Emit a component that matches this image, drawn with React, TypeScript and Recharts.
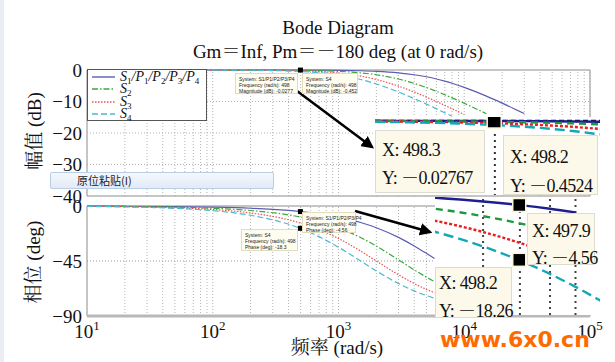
import React from 'react';
import { LineChart, Line, XAxis, YAxis, ReferenceLine, ReferenceArea, ReferenceDot, Legend } from 'recharts';

const SERIF = "'Liberation Serif', 'Times New Roman', 'Noto Serif CJK SC', 'Noto Sans CJK SC', serif";
const CJK = "'Noto Sans CJK SC', sans-serif";

// ---------- main Bode data (rad/s, dB, deg) ----------
const FREQ = [10, 20, 50, 100, 200, 500, 1000, 1500, 2000, 3000, 4000, 5000, 5800, 7000, 8000, 10000, 12000, 15000, 20000, 30000];
const MAG_S1 = [0, 0, 0, -0.001, -0.004, -0.028, -0.11, -0.24, -0.42, -0.9, -1.5, -2.15, -2.7, -3.54, -4.22, -5.52, -6.72, -8.31, -10.52, -13.82];
const MAG_S2 = [0, 0, -0.001, -0.005, -0.018, -0.11, -0.43, -0.91, -1.51, -2.87, -4.26, -5.56, -6.53, -7.85, -8.84, -10.57, -12.04, -13.87, null, null];
const MAG_S3 = [0, 0, -0.003, -0.011, -0.043, -0.26, -0.97, -1.94, -3.01, -5.12, -6.99, -8.6, -9.74, -11.22, -12.3, -14.15, null, null, null, null];
const MAG_S4 = [0, -0.001, -0.005, -0.019, -0.077, -0.46, -1.6, -3.01, -4.44, -6.99, -9.09, -10.83, -12.03, -13.58, -14.69, null, null, null, null, null];
const PH_S1 = [-0.09, -0.18, -0.46, -0.92, -1.84, -4.58, -9.1, -13.5, -17.77, -25.68, -32.66, -38.7, -42.9, null, null, null, null, null, null, null];
const PH_S2 = [-0.18, -0.37, -0.92, -1.85, -3.69, -9.16, -17.88, -25.8, -32.83, -44.06, -52.2, -58.2, -61.9, null, null, null, null, null, null, null];
const PH_S3 = [-0.29, -0.57, -1.43, -2.86, -5.71, -14.04, -26.57, -36.87, -45, -56.31, -63.43, -68.2, -71.0, null, null, null, null, null, null, null];
const PH_S4 = [-0.38, -0.76, -1.91, -3.81, -7.59, -18.43, -33.69, -45, -53.13, -63.43, -69.44, -73.3, -75.5, null, null, null, null, null, null, null];

// ---------- zoomed insets around 498 rad/s ----------
const ZOOM_FREQ = [242, 300, 400, 500, 600, 700, 800, 945];
const ZMAG_S1 = [-0.0065, -0.01, -0.018, -0.028, -0.04, -0.054, -0.071, -0.098];
const ZMAG_S2 = [-0.026, -0.041, -0.072, -0.111, -0.16, -0.216, -0.28, -0.386];
const ZMAG_S3 = [-0.063, -0.097, -0.17, -0.263, -0.374, -0.501, -0.645, -0.875];
const ZMAG_S4 = [-0.111, -0.17, -0.298, -0.458, -0.645, -0.856, -1.088, -1.452];
const ZPH_S1 = [-2.22, -2.75, -3.67, -4.58, -5.49, -6.4, null, null];
const ZPH_S2 = [-4.47, -5.53, -7.35, -9.16, -10.95, -12.72, null, null];
const ZPH_S3 = [-6.9, -8.53, -11.31, -14.04, -16.7, -19.29, null, null];
const ZPH_S4 = [-9.16, -11.31, -14.93, -18.43, -21.8, -25.02, -28.07, -32.2];
const ZOOM_GRID = [400, 500, 600, 700];

// datatip values
const TIP_FREQ = 498;
const TIP_MAG_S1 = -0.0277;
const TIP_MAG_S4 = -0.452;
const TIP_PH_S1 = -4.56;
const TIP_PH_S4 = -18.26;

// ---------- series style ----------
const SERIES_KEYS = ['s1', 's2', 's3', 's4'];
const SERIES_LABELS = ['S1/P1/P2/P3/P4', 'S2', 'S3', 'S4'];
const SERIES_COLORS = ['#5c5cb2', '#3aa83a', '#ec5252', '#4cb8d4'];
const SERIES_DASH = [undefined, '6 2 1.5 2', '1.5 1.5', '6 3'];
const ZOOM_COLORS = ['#1e1e8c', '#199a3c', '#e62020', '#14a8b4'];
const ZOOM_DASH = [undefined, '7 5', '3 2', '10 5'];

// ---------- ticks ----------
const X_TICKS = [10, 100, 1000, 10000, 100000];
const X_TICK_EXP = ['1', '2', '3', '4', '5'];
const MAG_TICKS = [0, -10, -20, -30, -40];
const MAG_TICK_LABELS = ['0', '−10', '−20', '−30', '−40'];
const PH_TICKS = [0, -45, -90];
const PH_TICK_LABELS = ['0', '−45', '−90'];
const DECADES = [10, 100, 1000, 10000];
const MULTS = [1, 2, 3, 4, 5, 6, 7, 8, 9];
const GRID_FREQ = DECADES.flatMap((d) => MULTS.map((m) => d * m)).filter((v) => v > 10).concat([100000]);

const magData = FREQ.map((f, i) => ({ f, s1: MAG_S1[i], s2: MAG_S2[i], s3: MAG_S3[i], s4: MAG_S4[i] }));
const phData = FREQ.map((f, i) => ({ f, s1: PH_S1[i], s2: PH_S2[i], s3: PH_S3[i], s4: PH_S4[i] }));
const zMagData = ZOOM_FREQ.map((f, i) => ({ f, s1: ZMAG_S1[i], s2: ZMAG_S2[i], s3: ZMAG_S3[i], s4: ZMAG_S4[i] }));
const zPhData = ZOOM_FREQ.map((f, i) => ({ f, s1: ZPH_S1[i], s2: ZPH_S2[i], s3: ZPH_S3[i], s4: ZPH_S4[i] }));

const makeYTick = (ticks: number[], labels: string[]) => (props: any) => {
  const { x, y, payload } = props;
  const idx = ticks.indexOf(payload.value);
  return (
    <text x={x} y={y} textAnchor="end" dominantBaseline="central" fontFamily={SERIF} fontSize={19} fill="#111">
      {labels[idx]}
    </text>
  );
};

const XTick = (props: any) => {
  const { x, y, payload } = props;
  const idx = X_TICKS.indexOf(payload.value);
  return (
    <text x={x} y={y + 14} textAnchor="middle" fontFamily={SERIF} fontSize={19} fill="#111">
      <tspan>10</tspan>
      <tspan dy={-8} fontSize={13}>{X_TICK_EXP[idx]}</tspan>
    </text>
  );
};

const renderLabel = (s: string) => {
  const parts: React.ReactNode[] = [];
  s.split('').forEach((ch, i) => {
    if (/[0-9]/.test(ch)) parts.push(<sub key={i} style={{ fontSize: 9, fontStyle: 'normal', verticalAlign: '-3px', lineHeight: 0 }}>{ch}</sub>);
    else parts.push(<span key={i}>{ch}</span>);
  });
  return parts;
};

const LegendBox = () => (
  <div style={{ width: 120, height: 52, border: '1px solid #555', background: '#fff', boxSizing: 'border-box', paddingTop: 1 }}>
    {SERIES_KEYS.map((k, i) => (
      <div key={k} style={{ display: 'flex', alignItems: 'center', height: 12.3 }}>
        <svg width={30} height={10} style={{ marginLeft: 2, flex: 'none' }}>
          <line x1={2} y1={5} x2={25} y2={5} stroke={SERIES_COLORS[i]} strokeWidth={1.4} strokeDasharray={SERIES_DASH[i]} />
        </svg>
        <span style={{ fontFamily: SERIF, fontStyle: 'italic', fontSize: 14, color: '#111', lineHeight: '12px', whiteSpace: 'nowrap' }}>
          {renderLabel(SERIES_LABELS[i])}
        </span>
      </div>
    ))}
  </div>
);

const tipSquare = (size: number) => (props: any) => (
  <rect x={props.cx - size / 2} y={props.cy - size / 2} width={size} height={size} fill="#000" stroke="#fbf6d8" strokeWidth={size > 8 ? 1.5 : 0} />
);

const gridLines = (ymin: number, ymax: number) => GRID_FREQ.map((v) => (
  <ReferenceLine key={'g' + v} segment={[{ x: v, y: ymin }, { x: v, y: ymax }]} stroke="#b3b3b3" strokeDasharray="1 2" strokeWidth={1} />
));

const smallTip: React.CSSProperties = {
  position: 'absolute', background: '#fffdf0', border: '1px solid #e2dcbc', fontFamily: "'Liberation Sans', Arial, sans-serif",
  fontSize: 5, lineHeight: '6px', color: '#222', padding: '2px 3px', boxSizing: 'border-box', whiteSpace: 'nowrap',
};

const bigTip: React.CSSProperties = {
  position: 'absolute', background: '#fcf9ea', border: '1px solid #dcdcd0', fontFamily: SERIF,
  fontSize: 18, color: '#111', boxSizing: 'border-box', letterSpacing: -0.6, whiteSpace: 'nowrap',
};

export default function App() {
  return (
    <div style={{ position: 'fixed', left: 0, top: 0, width: 615, height: 362, background: '#fff', overflow: 'hidden' }}>
      <div style={{ position: 'absolute', left: 0, top: 0, width: 4, height: 362, background: '#eaeef4' }} />

      {/* magnitude plot */}
      <div style={{ position: 'absolute', left: 0, top: 0 }}>
        <LineChart width={615} height={210} data={magData} margin={{ top: 70, right: 25, left: 0, bottom: 14 }}>
          <XAxis type="number" dataKey="f" scale="log" domain={[10, 100000]} ticks={X_TICKS} hide allowDataOverflow />
          <YAxis type="number" domain={[-40, 0]} ticks={MAG_TICKS} width={87} interval={0} axisLine={false} tickLine={false}
            tickSize={3} tickMargin={2} tick={makeYTick(MAG_TICKS, MAG_TICK_LABELS)} />
          {gridLines(-40, 0)}
          {[-10, -20, -30].map((v) => (
            <ReferenceLine key={'h' + v} y={v} stroke="#b3b3b3" strokeDasharray="1 2" />
          ))}
          <ReferenceArea x1={10} x2={100000} y1={-40} y2={0} fill="none" stroke="#8c8c8c" strokeWidth={1} />
          {SERIES_KEYS.map((k, i) => (
            <Line key={k} dataKey={k} name={SERIES_LABELS[i]} stroke={SERIES_COLORS[i]} strokeDasharray={SERIES_DASH[i]}
              strokeWidth={1.2} dot={false} type="monotone" isAnimationActive={false} />
          ))}
          <ReferenceDot x={TIP_FREQ} y={TIP_MAG_S1} r={3} shape={tipSquare(5)} />
          <Legend layout="vertical" align="center" verticalAlign="middle" content={() => <LegendBox />}
            wrapperStyle={{ position: 'absolute', left: 87, top: 69, width: 121, height: 53 }} />
        </LineChart>
      </div>

      {/* phase plot */}
      <div style={{ position: 'absolute', left: 0, top: 190 }}>
        <LineChart width={615} height={172} data={phData} margin={{ top: 16, right: 25, left: 0, bottom: 16 }}>
          <XAxis type="number" dataKey="f" scale="log" domain={[10, 100000]} ticks={X_TICKS} interval={0} height={30}
            axisLine={false} tickLine={false} tick={<XTick />} allowDataOverflow />
          <YAxis type="number" domain={[-90, 0]} ticks={PH_TICKS} width={87} interval={0} axisLine={false} tickLine={false}
            tickSize={3} tickMargin={2} tick={makeYTick(PH_TICKS, PH_TICK_LABELS)} />
          {gridLines(-90, 0)}
          <ReferenceLine y={-45} stroke="#9a9a9a" strokeDasharray="1 2" />
          <ReferenceArea x1={10} x2={100000} y1={-90} y2={0} fill="none" stroke="#8c8c8c" strokeWidth={1} />
          <ReferenceLine y={-90} stroke="#b8b8b8" strokeWidth={3} />
          {SERIES_KEYS.map((k, i) => (
            <Line key={k} dataKey={k} name={SERIES_LABELS[i]} stroke={SERIES_COLORS[i]} strokeDasharray={SERIES_DASH[i]}
              strokeWidth={1.2} dot={false} type="monotone" isAnimationActive={false} />
          ))}
          <ReferenceDot x={TIP_FREQ} y={TIP_PH_S1} r={3} shape={tipSquare(5)} />
          <ReferenceDot x={TIP_FREQ} y={TIP_PH_S4} r={3} shape={tipSquare(5)} />
        </LineChart>
      </div>

      {/* titles and arrows */}
      <svg width={615} height={362} style={{ position: 'absolute', left: 0, top: 0, pointerEvents: 'none' }}>
        <defs>
          <marker id="ah" markerWidth="5" markerHeight="5" refX="4" refY="2.5" orient="auto">
            <path d="M0,0 L5,2.5 L0,5 z" fill="#000" />
          </marker>
        </defs>
        <text x={338} y={34} textAnchor="middle" fontFamily={SERIF} fontSize={19} fill="#111">Bode Diagram</text>
        <text x={338} y={58} textAnchor="middle" fontFamily={SERIF} fontSize={19} fill="#111">Gm＝Inf, Pm＝－180 deg (at 0 rad/s)</text>
        <text transform="translate(34,131) rotate(-90)" textAnchor="middle" dominantBaseline="central" fontFamily={SERIF} fontSize={19} fill="#111">幅值 (dB)</text>
        <text transform="translate(33,262) rotate(-90)" textAnchor="middle" dominantBaseline="central" fontFamily={SERIF} fontSize={19} fill="#111">相位 (deg)</text>
        <text x={337} y={354} textAnchor="middle" fontFamily={SERIF} fontSize={19} fill="#111">频率 (rad/s)</text>
        <line x1={293} y1={88} x2={372} y2={147} stroke="#000" strokeWidth={2.5} markerEnd="url(#ah)" />
        <line x1={355} y1={211} x2={430} y2={232} stroke="#000" strokeWidth={2.5} markerEnd="url(#ah)" />
      </svg>

      {/* small datatips */}
      <div style={{ ...smallTip, left: 235, top: 73, width: 63, height: 21 }}>
        <div>System: S1/P1/P2/P3/P4</div><div>Frequency (rad/s): 498</div><div>Magnitude (dB): -0.0277</div>
      </div>
      <div style={{ ...smallTip, left: 302, top: 73, width: 56, height: 21 }}>
        <div>System: S4</div><div>Frequency (rad/s): 498</div><div>Magnitude (dB): -0.452</div>
      </div>
      <div style={{ ...smallTip, left: 302, top: 212, width: 54, height: 21 }}>
        <div>System: S1/P1/P2/P3/P4</div><div>Frequency (rad/s): 498</div><div>Phase (deg): -4.56</div>
      </div>
      <div style={{ ...smallTip, left: 241, top: 229, width: 57, height: 22 }}>
        <div>System: S4</div><div>Frequency (rad/s): 498</div><div>Phase (deg): -18.3</div>
      </div>

      {/* top zoom inset */}
      <div style={{ position: 'absolute', left: 375, top: 117, width: 225, height: 78, background: '#fff' }}>
        <LineChart width={225} height={78} data={zMagData} margin={{ top: 0, right: 0, left: 0, bottom: 0 }}>
          <XAxis type="number" dataKey="f" scale="log" domain={[242, 945]} hide allowDataOverflow />
          <YAxis type="number" domain={[-7.9, 0.4]} hide allowDataOverflow />
          <ReferenceLine segment={[{ x: 500, y: -1.4 }, { x: 500, y: -7.9 }]} stroke="#333" strokeWidth={2} strokeDasharray="2 4" />
          <ReferenceLine y={0} stroke="#111" strokeWidth={2} strokeDasharray="5 3" />
          {SERIES_KEYS.map((k, i) => (
            <Line key={k} dataKey={k} stroke={ZOOM_COLORS[i]} strokeDasharray={ZOOM_DASH[i]} strokeWidth={2.4}
              dot={false} type="monotone" isAnimationActive={false} />
          ))}
          <ReferenceDot x={TIP_FREQ} y={TIP_MAG_S1} r={7} shape={tipSquare(14)} />
        </LineChart>
      </div>
      <div style={{ ...bigTip, left: 375, top: 130, width: 110, height: 63 }}>
        <div style={{ position: 'absolute', left: 6, top: 9 }}>X: 498.3</div>
        <div style={{ position: 'absolute', left: 6, top: 32 }}>Y: －0.02767</div>
      </div>
      <div style={{ ...bigTip, left: 503, top: 135, width: 95, height: 60 }}>
        <div style={{ position: 'absolute', left: 6, top: 11 }}>X: 498.2</div>
        <div style={{ position: 'absolute', left: 6, top: 35 }}>Y: －0.4524</div>
      </div>

      {/* bottom zoom inset */}
      <div style={{ position: 'absolute', left: 435, top: 197, width: 165, height: 118, background: '#fff' }}>
        <LineChart width={165} height={118} data={zPhData} margin={{ top: 0, right: 0, left: 0, bottom: 0 }}>
          <XAxis type="number" dataKey="f" scale="log" domain={[299, 812]} hide allowDataOverflow />
          <YAxis type="number" domain={[-32.06, -2.56]} hide allowDataOverflow />
          {ZOOM_GRID.map((v) => (
            <ReferenceLine key={'z' + v} x={v} stroke="#444" strokeWidth={2} strokeDasharray="2 4" />
          ))}
          {SERIES_KEYS.map((k, i) => (
            <Line key={k} dataKey={k} stroke={ZOOM_COLORS[i]} strokeDasharray={ZOOM_DASH[i]} strokeWidth={2.4}
              dot={false} type="monotone" isAnimationActive={false} />
          ))}
          <ReferenceDot x={TIP_FREQ} y={TIP_PH_S1} r={7} shape={tipSquare(13)} />
          <ReferenceDot x={TIP_FREQ} y={TIP_PH_S4} r={7} shape={tipSquare(13)} />
        </LineChart>
      </div>
      <div style={{ ...bigTip, left: 527, top: 213, width: 68, height: 52 }}>
        <div style={{ position: 'absolute', left: 4, top: 7 }}>X: 497.9</div>
        <div style={{ position: 'absolute', left: 4, top: 29 }}>Y: －4.56</div>
      </div>
      <div style={{ ...bigTip, left: 435, top: 267, width: 77, height: 51 }}>
        <div style={{ position: 'absolute', left: 3, top: 5 }}>X: 498.2</div>
        <div style={{ position: 'absolute', left: 3, top: 28 }}>Y: －18.26</div>
      </div>

      {/* paste menu */}
      <div style={{ position: 'absolute', left: 50, top: 172, width: 224, height: 17, boxSizing: 'border-box', border: '1px solid #b8cde8',
        borderRadius: 2, background: 'linear-gradient(#f5f8fd, #e2eaf6)', fontFamily: CJK, fontSize: 11, lineHeight: '15px', color: '#222', paddingLeft: 26 }}>
        原位粘贴(I)
      </div>

      {/* watermark */}
      <div style={{ position: 'absolute', left: 440, top: 328, fontFamily: "'DejaVu Sans', sans-serif", fontWeight: 'bold', fontSize: 22,
        color: '#ff6a00', lineHeight: '24px', whiteSpace: 'nowrap' }}>www.6x0.cn</div>
    </div>
  );
}
